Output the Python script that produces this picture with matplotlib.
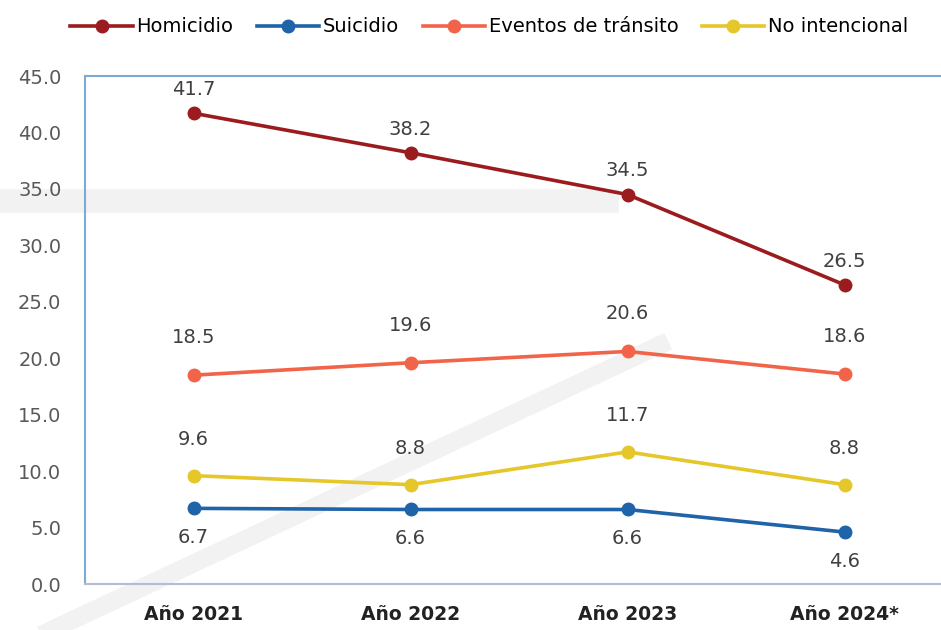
import numpy as np
import matplotlib.pyplot as plt
from matplotlib.lines import Line2D

years = ["Año 2021", "Año 2022", "Año 2023", "Año 2024*"]
homicidio = [41.7, 38.2, 34.5, 26.5]
suicidio = [6.7, 6.6, 6.6, 4.6]
transito = [18.5, 19.6, 20.6, 18.6]
no_intencional = [9.6, 8.8, 11.7, 8.8]

series = [
    ("Homicidio", homicidio, "#9B1B1F", 17),
    ("Suicidio", suicidio, "#1F63A8", -21),
    ("Eventos de tránsito", transito, "#F26449", 27),
    ("No intencional", no_intencional, "#E6C72A", 26),
]

fig = plt.figure(figsize=(9.41, 6.3), dpi=100)

# faint watermark strokes behind the chart
W, H = 941, 630
wm = "#F2F2F2"
fig.add_artist(Line2D([0, 607 / W], [1 - 201 / H, 1 - 201 / H], color=wm, lw=17, zorder=-1))
fig.add_artist(Line2D([30 / W, 660 / W], [1 - 640 / H, 1 - 345 / H], color=wm, lw=13, zorder=-1))

ax = fig.add_axes([85 / W, 46 / H, 868 / W, 508 / H])
ax.patch.set_alpha(0)

x = np.arange(len(years))
for name, vals, color, off in series:
    ax.plot(x, vals, color=color, lw=2.6, marker="o", ms=9, label=name)
    for xi, v in zip(x, vals):
        ax.annotate(f"{v:.1f}", (xi, v), xytext=(0, off), textcoords="offset points",
                    ha="center", va="center", fontsize=14, color="#404040")

ax.set_xlim(-0.5, 3.5)
ax.set_ylim(0, 45)
ax.set_yticks(np.arange(0, 46, 5))
ax.set_yticklabels([f"{t:.1f}" for t in np.arange(0, 46, 5)], fontsize=14, color="#595959")
ax.set_xticks(x)
ax.set_xticklabels(years, fontsize=13.5, fontweight="bold", color="#222222")
ax.tick_params(axis="y", length=0, pad=17)
ax.tick_params(axis="x", length=0, pad=15)

for s in ["left", "top"]:
    ax.spines[s].set_color("#7EA9D2")
    ax.spines[s].set_linewidth(1.5)
ax.spines["right"].set_visible(False)
ax.spines["bottom"].set_color("#B4BBD3")
ax.spines["bottom"].set_linewidth(1.5)

fig.legend(loc="upper center", bbox_to_anchor=(0.52, 1.0), ncol=4, frameon=False,
           prop={"size": 14}, handlelength=3.2, handletextpad=0.2, columnspacing=1.2)

fig.savefig("out.png", dpi=100)
